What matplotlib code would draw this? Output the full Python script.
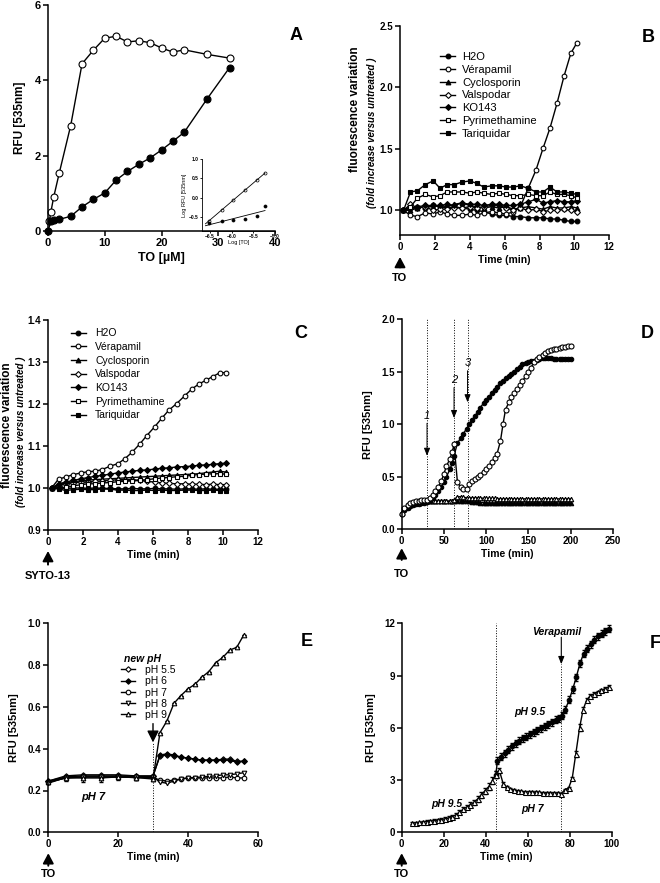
import numpy as np
import matplotlib
matplotlib.use("Agg")
import matplotlib.pyplot as plt

plt.rcParams["font.family"] = ["Liberation Sans", "DejaVu Sans"]
plt.rcParams["font.weight"] = "bold"
plt.rcParams["axes.labelweight"] = "bold"
plt.rcParams["axes.linewidth"] = 1.1

W, H = 660, 883

# ---- panel A: TO titration ----
a_open_x = [0.25, 0.5, 1, 2, 4, 6, 8, 10, 12, 14, 16, 18, 20, 22, 24, 28, 32]
a_open_y = [0.27, 0.5, 0.9, 1.55, 2.8, 4.44, 4.8, 5.12, 5.17, 5.02, 5.05, 5.0, 4.86, 4.75, 4.81, 4.69, 4.59]
a_fill_x = [0, 0.5, 1, 2, 4, 6, 8, 10, 12, 14, 16, 18, 20, 22, 24, 28, 32]
a_fill_y = [0.0, 0.26, 0.28, 0.31, 0.39, 0.64, 0.84, 1.01, 1.35, 1.58, 1.77, 1.94, 2.15, 2.38, 2.62, 3.5, 4.34]
log_to = [-6.52, -6.23, -5.96, -5.70, -5.41, -5.23]
log_open = [-0.59, -0.33, -0.06, 0.19, 0.45, 0.65]
log_fill = [-0.66, -0.60, -0.57, -0.54, -0.46, -0.21]

# ---- panels B and C: inhibitors ----
drug_names = ["H2O", "Vérapamil", "Cyclosporin", "Valspodar", "KO143", "Pyrimethamine", "Tariquidar"]
drug_markers = ["o", "o", "^", "D", "D", "s", "s"]
drug_filled = [True, False, True, False, True, False, True]
time_bc = [0.2, 0.6, 1.0, 1.45, 1.9, 2.3, 2.7, 3.1, 3.55, 4.0, 4.4, 4.8, 5.25,
           5.65, 6.1, 6.5, 6.9, 7.35, 7.8, 8.2, 8.6, 9.0, 9.4, 9.8, 10.15]
b_h2o = [1.0, 1.02, 1.03, 1.02, 1.04, 1.03, 1.02, 1.03, 1.02, 1.01, 1.0, 0.99, 0.97,
         0.96, 0.96, 0.95, 0.95, 0.94, 0.94, 0.94, 0.93, 0.93, 0.92, 0.91, 0.91]
b_vera = [1.0, 0.96, 0.95, 0.98, 0.97, 0.99, 0.97, 0.96, 0.96, 0.97, 0.96, 0.98, 0.99,
          0.98, 0.97, 0.99, 1.03, 1.18, 1.33, 1.505, 1.67, 1.87, 2.09, 2.28, 2.365]
b_cyclo = [1.0, 1.0, 1.02, 1.03, 1.03, 1.04, 1.03, 1.05, 1.06, 1.04, 1.03, 1.02, 1.03,
           1.02, 1.03, 1.01, 1.02, 1.03, 1.02, 1.01, 1.03, 1.02, 1.02, 1.03, 1.02]
b_valsp = [1.0, 1.05, 1.02, 1.03, 1.0, 1.01, 1.01, 1.02, 1.02, 1.03, 1.02, 1.03, 1.04,
           1.04, 1.02, 1.0, 1.02, 1.0, 1.01, 0.99, 1.0, 1.0, 1.01, 1.0, 0.99]
b_ko143 = [1.0, 1.02, 1.03, 1.04, 1.04, 1.04, 1.05, 1.04, 1.06, 1.05, 1.05, 1.04, 1.05,
           1.05, 1.04, 1.04, 1.05, 1.07, 1.09, 1.06, 1.07, 1.08, 1.07, 1.07, 1.08]
b_pyri = [1.0, 1.03, 1.1, 1.13, 1.11, 1.12, 1.15, 1.15, 1.15, 1.14, 1.15, 1.14, 1.13,
          1.14, 1.13, 1.12, 1.12, 1.13, 1.12, 1.12, 1.15, 1.13, 1.13, 1.12, 1.10]
b_tari = [1.0, 1.15, 1.16, 1.21, 1.24, 1.18, 1.21, 1.21, 1.23, 1.24, 1.22, 1.19, 1.2,
          1.2, 1.19, 1.19, 1.2, 1.18, 1.15, 1.15, 1.19, 1.15, 1.15, 1.14, 1.13]

c_h2o = [1.0, 1.0, 0.999, 1.0, 1.0, 0.999, 1.0, 0.999, 0.999, 0.998, 0.998, 0.999, 0.998,
         0.998, 0.999, 0.998, 0.998, 0.997, 0.998, 0.998, 0.997, 0.998, 0.997, 0.997, 0.997]
c_vera = [1.0, 1.021, 1.026, 1.032, 1.036, 1.039, 1.040, 1.044, 1.052, 1.058, 1.07, 1.085, 1.105,
          1.125, 1.146, 1.166, 1.185, 1.201, 1.219, 1.235, 1.247, 1.256, 1.265, 1.274, 1.275]
c_cyclo = [1.0, 1.008, 1.012, 1.015, 1.017, 1.019, 1.02, 1.021, 1.022, 1.023, 1.024, 1.025, 1.026,
           1.027, 1.028, 1.029, 1.03, 1.031, 1.032, 1.033, 1.034, 1.036, 1.038, 1.04, 1.038]
c_valsp = [1.0, 1.005, 1.01, 1.012, 1.014, 1.015, 1.016, 1.017, 1.018, 1.02, 1.02, 1.02, 1.018,
           1.016, 1.014, 1.012, 1.011, 1.01, 1.01, 1.009, 1.009, 1.008, 1.009, 1.008, 1.008]
c_ko143 = [1.0, 1.01, 1.014, 1.018, 1.022, 1.025, 1.028, 1.03, 1.033, 1.036, 1.038, 1.04, 1.042,
           1.043, 1.045, 1.047, 1.048, 1.05, 1.051, 1.052, 1.054, 1.055, 1.056, 1.058, 1.059]
c_pyri = [1.0, 1.0, 1.002, 1.005, 1.008, 1.01, 1.01, 1.012, 1.013, 1.015, 1.016, 1.017, 1.018,
          1.02, 1.022, 1.024, 1.025, 1.027, 1.028, 1.03, 1.032, 1.033, 1.034, 1.034, 1.033]
c_tari = [1.0, 0.998, 0.994, 0.996, 0.997, 0.996, 0.996, 0.998, 0.997, 0.995, 0.995, 0.994, 0.994,
          0.995, 0.994, 0.995, 0.994, 0.994, 0.995, 0.995, 0.994, 0.994, 0.995, 0.994, 0.994]

# ---- panel D: kinetics with additions 1, 2, 3 ----
time_d = [0, 3, 7, 10, 13, 17, 20, 23, 27, 30, 33, 37, 40, 43, 47, 50, 53, 57, 60, 62,
          66, 70, 73, 77, 80, 83, 87, 90, 93, 97, 100, 103, 107, 110, 113, 117, 120, 123, 127, 130,
          133, 137, 140, 143, 147, 150, 153, 157, 160, 163, 167, 170, 173, 177, 180, 183, 187, 190, 193, 197,
          200]
d_fill = [0.15, 0.18, 0.20, 0.22, 0.23, 0.24, 0.245, 0.25, 0.255, 0.26, 0.27, 0.30, 0.33, 0.36, 0.40, 0.45, 0.50, 0.57, 0.63, 0.70,
          0.82, 0.87, 0.91, 0.96, 1.0, 1.04, 1.08, 1.12, 1.16, 1.20, 1.23, 1.26, 1.30, 1.33, 1.36, 1.39, 1.41, 1.44, 1.46, 1.48,
          1.50, 1.53, 1.55, 1.57, 1.58, 1.59, 1.60, 1.60, 1.61, 1.62, 1.63, 1.63, 1.63, 1.63, 1.62, 1.62, 1.62, 1.62, 1.62, 1.62,
          1.62]
d_open = [0.15, 0.20, 0.23, 0.25, 0.26, 0.265, 0.27, 0.275, 0.28, 0.28, 0.30, 0.33, 0.36, 0.40, 0.46, 0.53, 0.60, 0.67, 0.74, 0.81,
          0.45, 0.40, 0.38, 0.38, 0.43, 0.46, 0.48, 0.50, 0.52, 0.55, 0.57, 0.60, 0.64, 0.68, 0.72, 0.84, 1.0, 1.14, 1.21, 1.26,
          1.30, 1.34, 1.37, 1.41, 1.46, 1.50, 1.54, 1.59, 1.62, 1.64, 1.66, 1.68, 1.70, 1.71, 1.72, 1.72, 1.73, 1.74, 1.74, 1.75,
          1.75]
d_tri_open = [0.16, 0.19, 0.21, 0.23, 0.24, 0.25, 0.255, 0.26, 0.26, 0.265, 0.265, 0.265, 0.27, 0.27, 0.27, 0.27, 0.27, 0.27, 0.27, 0.28,
              0.31, 0.31, 0.305, 0.30, 0.30, 0.30, 0.30, 0.30, 0.30, 0.295, 0.295, 0.295, 0.295, 0.295, 0.29, 0.29, 0.29, 0.29, 0.29, 0.29,
              0.29, 0.29, 0.29, 0.29, 0.29, 0.29, 0.29, 0.29, 0.29, 0.29, 0.29, 0.29, 0.29, 0.29, 0.29, 0.29, 0.29, 0.29, 0.29, 0.29,
              0.29]
d_tri_fill = [0.16, 0.19, 0.21, 0.23, 0.24, 0.25, 0.255, 0.26, 0.26, 0.265, 0.265, 0.265, 0.265, 0.265, 0.265, 0.265, 0.265, 0.265, 0.265, 0.27,
              0.27, 0.27, 0.27, 0.265, 0.265, 0.26, 0.26, 0.26, 0.255, 0.255, 0.255, 0.25, 0.25, 0.25, 0.25, 0.25, 0.25, 0.25, 0.25, 0.25,
              0.25, 0.25, 0.25, 0.25, 0.25, 0.25, 0.25, 0.25, 0.25, 0.25, 0.25, 0.25, 0.25, 0.25, 0.25, 0.25, 0.25, 0.25, 0.25, 0.25,
              0.25]
d_additions = [30, 62, 78]
d_labels = ["1", "2", "3"]
d_arrow_from = [1.01, 1.35, 1.51]
d_arrow_to = [0.70, 1.06, 1.21]
d_label_y = [1.08, 1.42, 1.58]

# ---- panel E: pH switch ----
time_e = [0, 5, 10, 15, 20, 25, 30, 32, 34, 36, 38, 40, 42, 44, 46, 48, 50, 52, 54, 56]
ph_names = ["pH 5.5", "pH 6", "pH 7", "pH 8", "pH 9"]
ph_markers = ["D", "D", "o", "v", "^"]
ph_filled = [False, True, False, False, False]
e_ph55 = [0.245, 0.27, 0.275, 0.275, 0.275, 0.27, 0.27, 0.365, 0.37, 0.365, 0.36, 0.355, 0.35, 0.345, 0.345, 0.345, 0.35, 0.35, 0.34, 0.34]
e_ph6 = [0.245, 0.265, 0.27, 0.27, 0.27, 0.268, 0.268, 0.37, 0.375, 0.37, 0.36, 0.355, 0.35, 0.345, 0.345, 0.345, 0.345, 0.345, 0.335, 0.34]
e_ph7 = [0.24, 0.26, 0.265, 0.265, 0.265, 0.262, 0.262, 0.25, 0.245, 0.25, 0.255, 0.26, 0.26, 0.26, 0.26, 0.26, 0.26, 0.265, 0.26, 0.26]
e_ph8 = [0.235, 0.262, 0.265, 0.265, 0.265, 0.265, 0.265, 0.24, 0.235, 0.245, 0.255, 0.26, 0.262, 0.265, 0.268, 0.27, 0.275, 0.275, 0.28, 0.285]
e_ph9 = [0.24, 0.26, 0.26, 0.26, 0.265, 0.262, 0.255, 0.477, 0.533, 0.617, 0.654, 0.686, 0.708, 0.742, 0.769, 0.812, 0.837, 0.872, 0.885, 0.944]
e_ph9_err = [0.01, 0.015, 0.02, 0.02, 0.015, 0.01, 0.01, 0, 0, 0, 0, 0, 0, 0, 0, 0, 0, 0, 0, 0]

# ---- panel F: pH 9.5 / pH 7 then verapamil ----
time_f_tri = [5.0, 6.7, 8.4, 10.2, 11.9, 13.6, 15.4, 17.1, 18.8, 20.6,
              22.3, 24.0, 25.8, 27.5, 29.2, 31.0, 32.7, 34.4, 36.2, 37.9,
              39.6, 41.4, 43.1, 44.8, 46.5, 48.3, 50.0, 51.7, 53.5, 55.2,
              56.9, 58.7, 60.4, 62.1, 63.9, 65.6, 67.3, 69.1, 70.8, 72.5,
              74.3, 76.0, 77.7, 79.5, 81.2, 82.9, 84.7, 86.4, 88.1, 89.9,
              91.6, 93.3, 95.1, 96.8, 98.5]
f_tri = [0.52, 0.55, 0.57, 0.60, 0.62, 0.64, 0.67, 0.70, 0.73, 0.77,
         0.82, 0.90, 1.00, 1.15, 1.32, 1.45, 1.58, 1.72, 1.92, 2.15,
         2.38, 2.62, 2.95, 3.30, 3.55, 2.80, 2.60, 2.50, 2.42, 2.38,
         2.35, 2.33, 2.32, 2.30, 2.30, 2.29, 2.28, 2.28, 2.27, 2.26,
         2.25, 2.22, 2.45, 2.55, 3.10, 4.50, 6.00, 7.05, 7.60, 7.85,
         7.95, 8.05, 8.15, 8.25, 8.35]
f_tri_err = [0.05, 0.05, 0.05, 0.06, 0.06, 0.06, 0.07, 0.07, 0.08, 0.08,
             0.09, 0.1, 0.1, 0.12, 0.12, 0.13, 0.14, 0.15, 0.16, 0.17,
             0.18, 0.19, 0.2, 0.2, 0.15, 0.08, 0.06, 0.05, 0.05, 0.05,
             0.05, 0.05, 0.05, 0.05, 0.05, 0.05, 0.05, 0.05, 0.05, 0.05,
             0.05, 0.05, 0.05, 0.05, 0.08, 0.15, 0.2, 0.15, 0.1, 0.08,
             0.08, 0.08, 0.08, 0.08, 0.08]
time_f_fill = [44.8, 45.6, 47.3, 49.0, 50.8, 52.5, 54.2, 56.0, 57.7, 59.4,
               61.2, 62.9, 64.6, 66.4, 68.1, 69.8, 71.6, 73.3, 75.0, 76.3,
               77.9, 79.7, 81.4, 83.1, 84.9, 86.6, 88.3, 90.1, 91.8, 93.5,
               95.3, 97.0, 98.8]
f_fill = [3.30, 4.10, 4.35, 4.55, 4.75, 4.95, 5.10, 5.25, 5.40, 5.50,
          5.62, 5.75, 5.85, 5.97, 6.10, 6.20, 6.32, 6.45, 6.55, 6.70,
          7.05, 7.60, 8.20, 8.90, 9.70, 10.25, 10.55, 10.80, 11.05, 11.25,
          11.40, 11.55, 11.70]


def _rect(left, top, right, bottom):
    # pixel box -> figure fraction
    return [left / W, 1 - bottom / H, (right - left) / W, (bottom - top) / H]


def _style(ax, labelsize=7):
    ax.spines["top"].set_visible(False)
    ax.spines["right"].set_visible(False)
    ax.tick_params(direction="out", length=3.5, width=1.1, labelsize=labelsize, pad=1.5)
    ax.set_facecolor("none")


def _line(ax, x, y, marker, filled, ms=4, **kw):
    return ax.plot(x, y, marker=marker, color="black", lw=1.0, ms=ms, mew=0.8,
                   mec="black", mfc="black" if filled else "white", clip_on=False, **kw)


def _start_arrow(ax, label, tip, base, text_y):
    tr = ax.get_xaxis_transform()
    ax.annotate("", xy=(0, tip), xytext=(0, base), xycoords=tr, textcoords=tr,
                arrowprops=dict(arrowstyle="-|>,head_length=0.6,head_width=0.32",
                                color="black", lw=1.4, shrinkA=0, shrinkB=0),
                annotation_clip=False)
    ax.text(0, text_y, label, transform=tr, ha="center", va="center", fontsize=8)


def _two_line_ylabel(ax, x1, y1, x2, y2):
    ax.text(x1, y1, "fluorescence variation", transform=ax.transAxes, rotation=90,
            ha="center", va="center", fontsize=8.5)
    ax.text(x2, y2, "(fold increase versus untreated )", transform=ax.transAxes, rotation=90,
            ha="center", va="center", fontsize=7, style="italic")


def _letter(x, y, s):
    fig.text(x / W, 1 - y / H, s, ha="center", va="center", fontsize=13, fontweight="bold")


fig = plt.figure(figsize=(6.6, 8.83), dpi=100)

# A
ax = fig.add_axes(_rect(48, 5, 275, 231))
_style(ax, 8)
_line(ax, a_open_x, a_open_y, "o", False, ms=5)
_line(ax, a_fill_x, a_fill_y, "o", True, ms=5)
ax.set_xlim(0, 40)
ax.set_ylim(0, 6)
ax.set_xticks([0, 10, 20, 30, 40])
ax.set_yticks([0, 2, 4, 6])
ax.set_xlabel("TO [µM]", fontsize=9, labelpad=3)
ax.set_ylabel("RFU [535nm]", fontsize=8.5, labelpad=6)

ins = fig.add_axes(_rect(202, 159, 275, 231))
ins.spines["top"].set_visible(False)
ins.spines["right"].set_visible(False)
for s in ("left", "bottom"):
    ins.spines[s].set_linewidth(0.6)
ins.set_facecolor("none")
ins.tick_params(direction="out", length=1.5, width=0.6, labelsize=3.5, pad=1)
ins.plot(log_to, log_open, "o", ms=2.2, mfc="white", mec="black", mew=0.5)
ins.plot(log_to, log_fill, "o", ms=2.2, mfc="black", mec="black", mew=0.5)
for ys in (log_open, log_fill):
    k, b0 = np.polyfit(log_to, ys, 1)
    xs = np.array([-6.6, -5.23])
    ins.plot(xs, k * xs + b0, color="black", lw=0.6)
ins.set_xlim(-6.68, -5.0)
ins.set_ylim(-0.86, 1.0)
ins.set_xticks([-6.5, -6.0, -5.5, -5.0])
ins.set_yticks([-0.5, 0.0, 0.5, 1.0])
ins.set_xlabel("Log [TO]", fontsize=4, labelpad=0.5, fontweight="normal")
ins.set_ylabel("Log RFU [535nm]", fontsize=4, labelpad=1, fontweight="normal")
_letter(296, 36, "A")

# B
ax = fig.add_axes(_rect(400, 26, 609.3, 235))
_style(ax)
for name, vals, m, f in zip(drug_names, [b_h2o, b_vera, b_cyclo, b_valsp, b_ko143, b_pyri, b_tari],
                            drug_markers, drug_filled):
    _line(ax, time_bc, vals, m, f, ms=3.4 if m != "D" else 3.0, label=name)
ax.set_xlim(0, 12)
ax.set_ylim(0.8, 2.5)
ax.set_xticks([0, 2, 4, 6, 8, 10, 12])
ax.set_yticks([1.0, 1.5, 2.0, 2.5])
ax.set_xlabel("Time (min)", fontsize=7.5, labelpad=2)
_two_line_ylabel(ax, -0.215, 0.6, -0.135, 0.49)
ax.legend(loc="upper left", bbox_to_anchor=(0.19, 0.875), frameon=False, borderpad=0, borderaxespad=0,
          handlelength=1.4, handletextpad=0.6, labelspacing=0.25, prop={"size": 8, "weight": "normal"})
_start_arrow(ax, "TO", -0.105, -0.155, -0.205)
_letter(648, 37, "B")

# C
ax = fig.add_axes(_rect(48, 320, 258, 530))
_style(ax)
for name, vals, m, f in zip(drug_names, [c_h2o, c_vera, c_cyclo, c_valsp, c_ko143, c_pyri, c_tari],
                            drug_markers, drug_filled):
    _line(ax, time_bc, vals, m, f, ms=3.4 if m != "D" else 3.0, label=name)
ax.set_xlim(0, 12)
ax.set_ylim(0.9, 1.4)
ax.set_xticks([0, 2, 4, 6, 8, 10, 12])
ax.set_yticks([0.9, 1.0, 1.1, 1.2, 1.3, 1.4])
ax.set_xlabel("Time (min)", fontsize=7.5, labelpad=2)
_two_line_ylabel(ax, -0.195, 0.5, -0.13, 0.47)
ax.legend(loc="upper left", bbox_to_anchor=(0.11, 0.96), frameon=False, borderpad=0, borderaxespad=0,
          handlelength=1.4, handletextpad=0.9, labelspacing=0.35, prop={"size": 7.5, "weight": "normal"})
_start_arrow(ax, "SYTO-13", -0.10, -0.165, -0.22)
_letter(301, 334, "C")

# D
ax = fig.add_axes(_rect(401.7, 319.3, 612.7, 529.3))
_style(ax)
for xa in d_additions:
    ax.axvline(xa, color="black", lw=0.7, ls=":")
_line(ax, time_d, d_tri_fill, "^", True, ms=3.2)
_line(ax, time_d, d_tri_open, "^", False, ms=3.2)
_line(ax, time_d, d_fill, "o", True, ms=3.2)
_line(ax, time_d, d_open, "o", False, ms=3.6)
for xa, lab, y0, y1, ly in zip(d_additions, d_labels, d_arrow_from, d_arrow_to, d_label_y):
    ax.annotate("", xy=(xa, y1), xytext=(xa, y0),
                arrowprops=dict(arrowstyle="-|>,head_length=0.45,head_width=0.18",
                                color="black", lw=0.7, shrinkA=0, shrinkB=0))
    ax.text(xa, ly, lab, ha="center", va="center", fontsize=8, style="italic", fontweight="normal")
ax.set_xlim(0, 250)
ax.set_ylim(0, 2.0)
ax.set_xticks([0, 50, 100, 150, 200, 250])
ax.set_yticks([0.0, 0.5, 1.0, 1.5, 2.0])
ax.set_xlabel("Time (min)", fontsize=7.5, labelpad=2)
ax.set_ylabel("RFU [535nm]", fontsize=8, labelpad=6)
_start_arrow(ax, "TO", -0.09, -0.146, -0.215)
_letter(647, 334, "D")

# E
ax = fig.add_axes(_rect(48.3, 623.3, 257.7, 832.3))
_style(ax)
ax.plot([30, 30], [0, 0.43], color="black", lw=0.7, ls=":")
ax.errorbar(time_e, e_ph9, yerr=e_ph9_err, fmt="none", ecolor="black", elinewidth=0.7, capsize=1.5)
for name, vals, m, f in zip(ph_names, [e_ph55, e_ph6, e_ph7, e_ph8, e_ph9], ph_markers, ph_filled):
    _line(ax, time_e, vals, m, f, ms=3.3 if m != "D" else 2.8, label=name)
ax.annotate("", xy=(30, 0.43), xytext=(30, 0.52),
            arrowprops=dict(arrowstyle="-|>,head_length=0.7,head_width=0.35",
                            color="black", lw=1.0, shrinkA=0, shrinkB=0))
ax.text(27, 0.83, "new pH", ha="center", va="center", fontsize=7.5, style="italic")
ax.text(13, 0.17, "pH 7", ha="center", va="center", fontsize=8, style="italic")
ax.set_xlim(0, 60)
ax.set_ylim(0, 1.0)
ax.set_xticks([0, 20, 40, 60])
ax.set_yticks([0.0, 0.2, 0.4, 0.6, 0.8, 1.0])
ax.set_xlabel("Time (min)", fontsize=7.5, labelpad=2)
ax.set_ylabel("RFU [535nm]", fontsize=8, labelpad=6)
ax.legend(loc="upper left", bbox_to_anchor=(0.345, 0.80), frameon=False, borderpad=0, borderaxespad=0,
          handlelength=1.4, handletextpad=0.9, labelspacing=0.12, prop={"size": 7.5, "weight": "normal"})
_start_arrow(ax, "TO", -0.10, -0.16, -0.2)
_letter(307, 642, "E")

# F
ax = fig.add_axes(_rect(401.7, 623.3, 611.7, 832.3))
_style(ax)
ax.plot([45, 45], [0, 12], color="black", lw=0.7, ls=":")
ax.plot([76, 76], [0, 9.65], color="black", lw=0.7, ls=":")
ax.errorbar(time_f_tri, f_tri, yerr=f_tri_err, fmt="none", ecolor="black", elinewidth=0.7, capsize=1.5)
ax.errorbar(time_f_fill, f_fill, yerr=0.2, fmt="none", ecolor="black", elinewidth=0.7, capsize=1.5)
_line(ax, time_f_fill, f_fill, "o", True, ms=3.3)
_line(ax, time_f_tri, f_tri, "^", False, ms=3.6)
ax.annotate("", xy=(76, 9.65), xytext=(76, 11.2),
            arrowprops=dict(arrowstyle="-|>,head_length=0.45,head_width=0.18",
                            color="black", lw=0.8, shrinkA=0, shrinkB=0))
ax.text(73.8, 11.5, "Verapamil", ha="center", va="center", fontsize=7.5, style="italic")
ax.text(61, 6.9, "pH 9.5", ha="center", va="center", fontsize=7.5, style="italic")
ax.text(21.5, 1.6, "pH 9.5", ha="center", va="center", fontsize=7.5, style="italic")
ax.text(62.5, 1.35, "pH 7", ha="center", va="center", fontsize=7.5, style="italic")
ax.set_xlim(0, 100)
ax.set_ylim(0, 12)
ax.set_xticks([0, 20, 40, 60, 80, 100])
ax.set_yticks([0, 3, 6, 9, 12])
ax.set_xlabel("Time (min)", fontsize=7.5, labelpad=2)
ax.set_ylabel("RFU [535nm]", fontsize=8, labelpad=6)
_start_arrow(ax, "TO", -0.10, -0.16, -0.2)
_letter(655, 643, "F")

fig.savefig("out.png", dpi=100)
